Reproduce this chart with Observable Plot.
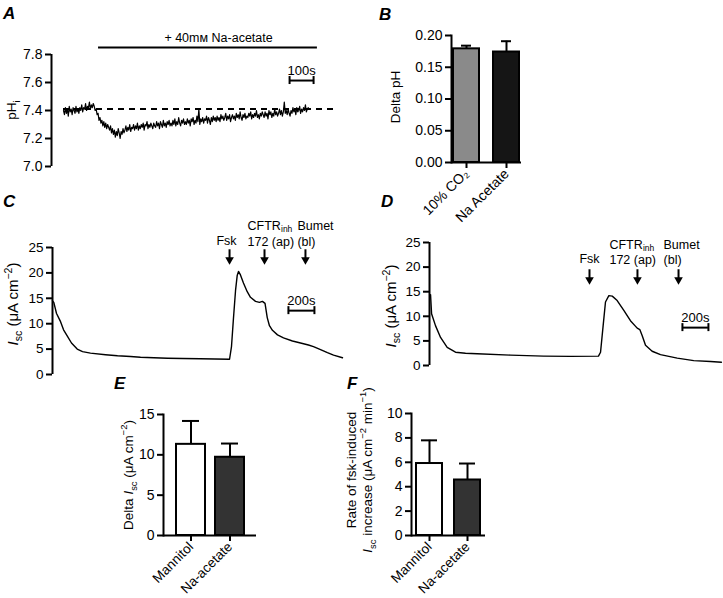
<!DOCTYPE html>
<html><head><meta charset="utf-8">
<script src="https://cdn.jsdelivr.net/npm/d3@7"></script>
<script src="https://cdn.jsdelivr.net/npm/@observablehq/plot@0.6"></script>
<style>
body{margin:0;background:#fff;}
#fig{position:relative;width:723px;height:598px;font-family:"Liberation Sans",Arial,Helvetica,sans-serif;color:#000;overflow:hidden;background:#fff}
.lab{position:absolute;font-weight:bold;font-style:italic;font-size:17px;line-height:1}
.yl{position:absolute;white-space:nowrap;font-size:13.5px;transform:translate(-50%,-50%) rotate(-90deg);line-height:1.2;text-align:center}
.yl.big{font-size:15px}
.yl sub,.yl sup{font-size:70%;line-height:0}
</style></head><body><div id="fig"></div>
<script>
// ---------------- DATA ----------------
// Panel A: intracellular pH trace (sampled every 4 s)
const phStep = 4;
const phValues = [
 7.40,7.37,7.42,7.38,7.41,7.36,7.43,7.39,7.41,7.37,7.42,7.40,7.38,7.43,7.39,7.41,
 7.38,7.42,7.40,7.44,7.39,7.42,7.41,7.45,7.40,7.43,7.42,7.46,7.41,7.44,7.42,7.45,
 7.43,7.40,7.41,7.37,7.38,7.33,7.35,7.31,7.33,7.29,7.32,7.28,7.31,7.27,7.30,7.28,
 7.26,7.29,7.24,7.27,7.23,7.26,7.21,7.25,7.22,7.27,7.24,7.20,7.25,7.23,7.27,7.24,
 7.26,7.29,7.25,7.28,7.26,7.30,7.25,7.28,7.27,7.30,7.26,7.29,7.27,7.31,7.26,7.29,
 7.27,7.30,7.28,7.31,7.26,7.30,7.29,7.32,7.27,7.30,7.28,7.31,7.29,7.27,7.31,7.29,
 7.28,7.32,7.29,7.31,7.27,7.32,7.30,7.28,7.33,7.29,7.31,7.28,7.32,7.30,7.33,7.29,
 7.31,7.29,7.33,7.30,7.34,7.29,7.32,7.30,7.35,7.31,7.29,7.33,7.31,7.34,7.30,7.32,
 7.30,7.34,7.31,7.33,7.29,7.34,7.32,7.35,7.30,7.33,7.31,7.36,7.32,7.41,7.30,7.34,
 7.32,7.35,7.31,7.34,7.33,7.36,7.31,7.35,7.33,7.30,7.35,7.32,7.36,7.33,7.35,7.32,
 7.36,7.33,7.35,7.32,7.37,7.34,7.36,7.33,7.35,7.38,7.33,7.36,7.34,7.37,7.32,7.35,
 7.37,7.34,7.36,7.33,7.38,7.35,7.37,7.34,7.39,7.35,7.33,7.37,7.35,7.38,7.34,7.36,
 7.35,7.38,7.36,7.39,7.34,7.37,7.35,7.38,7.36,7.40,7.35,7.37,7.34,7.38,7.36,7.39,
 7.37,7.35,7.39,7.36,7.38,7.34,7.40,7.37,7.39,7.35,7.38,7.36,7.41,7.37,7.39,7.36,
 7.38,7.41,7.37,7.40,7.36,7.39,7.46,7.38,7.40,7.37,7.41,7.38,7.36,7.40,7.38,7.42,
 7.39,7.41,7.37,7.42,7.39,7.40,7.43,7.38,7.41,7.39,7.42,7.40,7.44,7.39,7.41,7.42];
const phBaseline = 7.41;
const phAcetatePeriod = [146, 1058];
const phScaleBar = [942, 1042];
const phTicks = [7.0, 7.2, 7.4, 7.6, 7.8];

// Panel B
const bCats = ["10% CO\u2082", "Na Acetate"];
const bMeans = [0.179, 0.174];
const bSem = [0.005, 0.017];
const bTicks = [0, 0.05, 0.10, 0.15, 0.20];

// Panel C: Isc trace
const cTime = [0,10,31,62,85,113,146,190,231,292,408,500,600,677,780,885,1000,1138,1250,1362,1377,1392,1408,1421,1431,1446,1469,1498,1523,1562,1592,1615,1635,1652,1669,1692,1731,1777,1846,1908,1969,2008,2062,2115,2162,2231];
const cIsc  = [14.5,14.2,12.0,10.4,8.8,7.6,6.2,5.0,4.5,4.2,3.9,3.7,3.55,3.4,3.3,3.2,3.15,3.1,3.05,3.0,5.5,11.0,16.5,19.5,20.3,19.6,18.0,16.3,15.2,14.4,14.2,14.4,14.0,11.2,9.6,8.7,7.8,7.2,6.6,6.2,5.8,5.5,4.9,4.3,3.8,3.3];
const cEvents = [1362, 1631, 1946];
const cScaleBar = [1815, 2015];
const iscTicks = [0, 5, 10, 15, 20, 25];

// Panel D: Isc trace
const dTime = [0,8,13,38,77,128,192,269,359,615,869,1077,1292,1308,1328,1346,1372,1398,1436,1487,1538,1590,1610,1628,1654,1705,1769,1898,2025,2154,2238];
const dIsc  = [14.4,10.5,10.1,8.1,5.7,3.7,2.7,2.5,2.4,2.1,1.9,1.85,1.9,2.7,8.1,12.9,14.2,14.1,13.2,11.2,9.1,7.6,7.3,6.1,4.1,2.9,2.2,1.5,1.0,0.8,0.65];
const dEvents = [1223, 1592, 1908];
const dScaleBar = [1938, 2138];

// Panels E and F
const efCats = ["Mannitol", "Na-acetate"];
const eMeans = [11.3, 9.7];
const eSem = [2.9, 1.7];
const eTicks = [0, 5, 10, 15];
const fMeans = [5.9, 4.55];
const fSem = [1.9, 1.35];
const fTicks = [0, 2, 4, 6, 8, 10];

// ---------------- DRAWING ----------------
const fig = document.getElementById("fig");
const FONT = "'Liberation Sans', Arial, Helvetica, sans-serif";
const style = (fs) => ({fontFamily: FONT, fontSize: fs + "px", color: "#000", background: "transparent", overflow: "visible"});

function put(el, left, top) {
  el.style.position = "absolute"; el.style.left = left + "px"; el.style.top = top + "px";
  fig.appendChild(el);
}
function label(cls, htmlText, left, top) {
  const d = document.createElement("div");
  d.className = cls; d.innerHTML = htmlText;
  put(d, left, top);
}

// ---- Panel A ----
const phData = phValues.map((v, i) => ({t: i * phStep, v}));
const aX0 = -50;
put(Plot.plot({
  width: 345, height: 180, marginLeft: 51, marginRight: 0, marginTop: 54, marginBottom: 14,
  style: style(14),
  x: {domain: [aX0, 1175], axis: null},
  y: {domain: [phTicks[0], phTicks[phTicks.length - 1]], label: null},
  marks: [
    Plot.ruleX([aX0], {y1: phTicks[0], y2: phTicks[phTicks.length - 1], strokeWidth: 2}),
    Plot.axisY({ticks: phTicks, tickFormat: ".1f", tickSize: 6, strokeWidth: 2, label: null, fontSize: 14}),
    Plot.ruleY([phBaseline], {x1: 0, x2: 1125, strokeWidth: 2, strokeDasharray: "6,5"}),
    Plot.line(phData, {x: "t", y: "v", strokeWidth: 1.2}),
    Plot.ruleY([7.85], {x1: phAcetatePeriod[0], x2: phAcetatePeriod[1], strokeWidth: 2}),
    Plot.text(["+ 40m\u1D0D Na-acetate"], {x: 646, y: 7.915, fontSize: 12.5}),
    Plot.ruleY([7.614], {x1: phScaleBar[0], x2: phScaleBar[1], strokeWidth: 2}),
    Plot.ruleX(phScaleBar, {y1: 7.614, y2: 7.614, insetTop: -4, insetBottom: -4, strokeWidth: 2}),
    Plot.text(["100s"], {x: (phScaleBar[0] + phScaleBar[1]) / 2, y: 7.685, fontSize: 13})
  ]
}), 0, 0);

// ---- Bar panels ----
function barPanel(o) {
  const data = o.cats.map((c, i) => ({c, v: o.vals[i], e: o.errs[i]}));
  return Plot.plot({
    width: o.width, height: o.height, marginLeft: o.ml, marginRight: o.mr, marginTop: o.mt, marginBottom: o.mb,
    style: style(o.fs),
    x: {domain: o.cats, paddingInner: o.pi, paddingOuter: o.po, label: null},
    y: {domain: [o.ticks[0], o.ticks[o.ticks.length - 1]], label: null},
    color: {domain: o.cats, range: o.fills},
    marks: [
      Plot.ruleX(data, {x: "c", y1: "v", y2: d => d.v + d.e, strokeWidth: 2}),
      Plot.tickY(data, {x: "c", y: d => d.v + d.e, strokeWidth: 2, insetLeft: o.cap, insetRight: o.cap}),
      Plot.barY(data, {x: "c", y: "v", fill: "c", stroke: "#000", strokeWidth: 2}),
      Plot.frame({anchor: "left", strokeWidth: 2}),
      Plot.ruleY([o.ticks[0]], {strokeWidth: 2}),
      Plot.axisY({ticks: o.ticks, tickFormat: o.fmt, tickSize: 6, strokeWidth: 2, label: null, fontSize: o.fs}),
      Plot.axisX({tickSize: 6, tickRotate: -45, tickPadding: 3, strokeWidth: 2, label: null, fontSize: o.xfs})
    ]
  });
}
put(barPanel({cats: bCats, vals: bMeans, errs: bSem, ticks: bTicks, fmt: ".2f", fills: ["#8a8a8a", "#151515"], fs: 14, xfs: 14,
  width: 165, height: 225, ml: 91, mr: 4, mt: 35, mb: 63, pi: 0.35, po: 0.05, cap: 8}), 360, 0);
put(barPanel({cats: efCats, vals: eMeans, errs: eSem, ticks: eTicks, fmt: "d", fills: ["#ffffff", "#333333"], fs: 14, xfs: 13.5,
  width: 260, height: 208, ml: 163, mr: 4, mt: 24, mb: 63, pi: 0.26, po: 0.3, cap: 6}), 0, 390);
put(barPanel({cats: efCats, vals: fMeans, errs: fSem, ticks: fTicks, fmt: "d", fills: ["#ffffff", "#333333"], fs: 14, xfs: 13.5,
  width: 170, height: 208, ml: 81, mr: 15, mt: 23, mb: 63, pi: 0.316, po: 0.13, cap: 5}), 330, 390);

// ---- Isc trace panels ----
function tracePanel(o) {
  const data = o.time.map((t, i) => ({t, v: o.vals[i]}));
  const ev = o.events;
  const mid = (o.bar[0] + o.bar[1]) / 2;
  const fs = 12.5;
  return Plot.plot({
    width: o.width, height: o.height, marginLeft: o.ml, marginRight: 0, marginTop: o.mt, marginBottom: o.mb,
    style: style(13.5),
    x: {domain: o.xdom, axis: null},
    y: {domain: [iscTicks[0], iscTicks[iscTicks.length - 1]], label: null},
    marks: [
      Plot.ruleX([o.xdom[0]], {y1: iscTicks[0], y2: iscTicks[iscTicks.length - 1], strokeWidth: 2}),
      Plot.axisY({ticks: iscTicks, tickSize: 6, strokeWidth: 2, label: null, fontSize: 13.5}),
      Plot.line(data, {x: "t", y: "v", strokeWidth: 1.4}),
      Plot.ruleX(ev, {y1: o.arrTop, y2: o.arrTip, insetBottom: 4, strokeWidth: 2}),
      Plot.dot(ev, {x: d => d, y: o.arrTip, dy: -4, symbol: "triangle", r: 3.2, fill: "#000", rotate: 180}),
      Plot.text(["Fsk"], {x: ev[0], y: o.row2, dx: o.fskDx, fontSize: fs}),
      Plot.text(["CFTR"], {x: ev[1], y: o.row1, dx: o.cftrDx, dy: -1, textAnchor: "start", fontSize: fs}),
      Plot.text(["inh"], {x: ev[1], y: o.row1, dx: o.cftrDx + 33.5, dy: 2, textAnchor: "start", fontSize: 8.5, fill: "#000"}),
      Plot.text(["172 (ap)"], {x: ev[1], y: o.row2, dx: o.cftrDx, dy: 1, textAnchor: "start", fontSize: fs}),
      Plot.text(["Bumet"], {x: ev[2], y: o.row1, dx: o.bumDx, dy: -1, textAnchor: "start", fontSize: fs}),
      Plot.text(["(bl)"], {x: ev[2], y: o.row2, dx: o.bumDx, dy: 1, textAnchor: "start", fontSize: fs}),
      Plot.ruleY([o.barY], {x1: o.bar[0], x2: o.bar[1], strokeWidth: 2}),
      Plot.ruleX(o.bar, {y1: o.barY, y2: o.barY, insetTop: -4, insetBottom: -4, strokeWidth: 2}),
      Plot.text(["200s"], {x: mid, y: o.barTextY, fontSize: 13})
    ]
  });
}
put(tracePanel({time: cTime, vals: cIsc, events: cEvents, bar: cScaleBar,
  width: 355, height: 190, ml: 52, mt: 47, mb: 16, xdom: [0, 2331],
  arrTop: 24.55, arrTip: 21.8, row1: 29.07, row2: 26.3, fskDx: -3, cftrDx: -17, bumDx: -8,
  barY: 12.57, barTextY: 14.5}), 0, 200);
put(tracePanel({time: dTime, vals: dIsc, events: dEvents, bar: dScaleBar,
  width: 363, height: 190, ml: 69, mt: 42, mb: 25, xdom: [-8, 2254],
  arrTop: 19.46, arrTip: 16.6, row1: 24.33, row2: 21.7, fskDx: 0, cftrDx: -28, bumDx: -15,
  barY: 7.7, barTextY: 9.73}), 360, 200);

// ---- Labels (HTML) ----
label("lab", "A", 3, 5);
label("lab", "B", 379, 6);
label("lab", "C", 3, 193);
label("lab", "D", 381, 193);
label("lab", "E", 114, 375);
label("lab", "F", 347, 375);

label("yl", "pH<sub>i</sub>", 12, 110);
label("yl", "Delta pH", 396, 97);
label("yl big", "<i>I</i><sub>sc</sub> (\u03BCA cm<sup>\u22122</sup>)", 13, 304);
label("yl big", "<i>I</i><sub>sc</sub> (\u03BCA cm<sup>\u22122</sup>)", 391, 306);
label("yl", "Delta <i>I</i><sub>sc</sub> (\u03BCA cm<sup>\u22122</sup>)", 129, 475);
label("yl", "Rate of fsk-induced<br><i>I</i><sub>sc</sub> increase (\u03BCA cm<sup>\u22122</sup> min<sup>\u22121</sup>)", 360, 470);
</script></body></html>
